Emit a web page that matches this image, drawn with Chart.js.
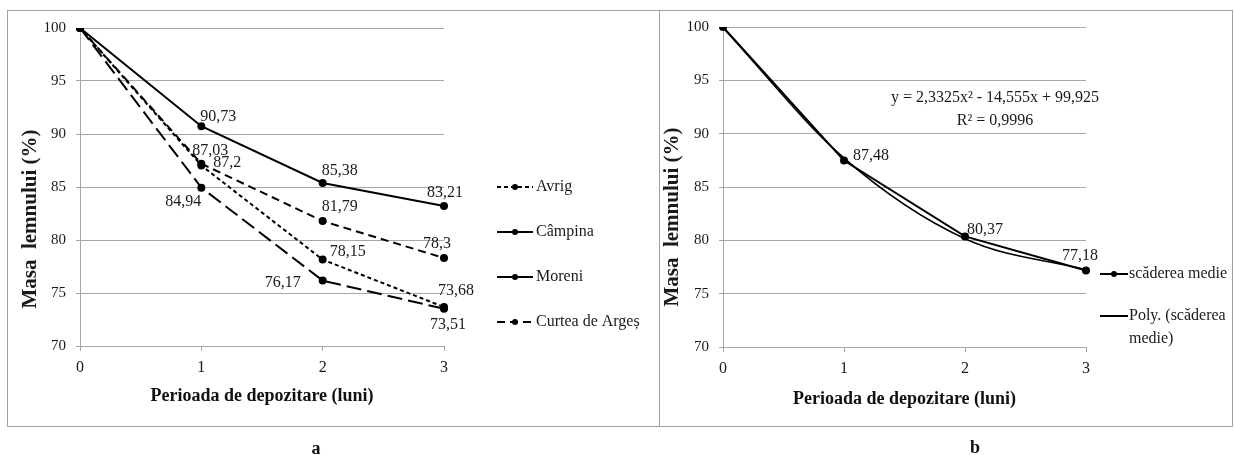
<!DOCTYPE html>
<html><head><meta charset="utf-8">
<script src="https://cdn.jsdelivr.net/npm/chart.js@4.4.1/dist/chart.umd.min.js"></script>
<style>
html,body{margin:0;padding:0;background:#fff;width:1234px;height:455px;overflow:hidden;}
#wrap{position:relative;width:1234px;height:455px;}
canvas{position:absolute;left:0;top:0;}
.panel{position:absolute;border:1px solid #a0a0a0;box-sizing:border-box;}
.cap{position:absolute;font:bold 18px 'Liberation Serif';color:#111;transform:translate(-50%,-50%);}
</style></head><body>
<div id="wrap">
<div class="panel" style="left:7px;top:10px;width:653px;height:417px"></div>
<div class="panel" style="left:659px;top:10px;width:574px;height:417px"></div>
<canvas id="cA" width="1234" height="455"></canvas>
<canvas id="cB" width="1234" height="455"></canvas>
<div class="cap" style="left:316px;top:448px">a</div>
<div class="cap" style="left:975px;top:447px">b</div>
</div>
<script>
// ---- data ----
const months = ['0', '1', '2', '3'];
const avrig = [100, 87.03, 78.15, 73.68];
const campina = [100, 90.73, 85.38, 83.21];
const moreni = [100, 84.94, 76.17, 73.51];
const curtea = [100, 87.2, 81.79, 78.3];
const seriesNamesA = ['Avrig', 'Câmpina', 'Moreni', 'Curtea de Argeș'];
const meanDecrease = [100, 87.48, 80.37, 77.18];
const polyTrend = [99.93, 87.70, 80.15, 77.25];
const seriesNamesB = ['scăderea medie', ['Poly. (scăderea', 'medie)']];
const equationLines = ['y = 2,3325x² - 14,555x + 99,925', 'R² = 0,9996'];
const yTitle = 'Masa  lemnului (%)';
const xTitle = 'Perioada de depozitare (luni)';

// ---- label placement (offsets from point, px) ----
const offsetsA = [
  [null, [9, -15], [25, -8], [12, -16]],
  [null, [17, -9], [17, -12], [1, -13]],
  [null, [-18, 14], [-40, 2], [4, 16]],
  [null, [26, -1], [17, -14], [-7, -14]]
];
const offsetsB = [[null, [27, -5], [20, -7], [-6, -15]], null];

Chart.defaults.animation = false;
const TXT = '#1a1a1a';
const GRID = '#a6a6a6';
const serif = 'Liberation Serif';
const fmt = v => String(v).replace('.', ',');

const annot = {
  id: 'annot',
  afterDatasetsDraw(chart, args, o) {
    const ctx = chart.ctx;
    ctx.save();
    // value labels
    ctx.font = '16px ' + serif; ctx.fillStyle = TXT;
    ctx.textAlign = 'center'; ctx.textBaseline = 'middle';
    chart.data.datasets.forEach((ds, di) => {
      const offs = o.offsets[di]; if (!offs) return;
      const meta = chart.getDatasetMeta(di);
      ds.data.forEach((v, i) => {
        const off = offs[i]; if (!off) return;
        const p = meta.data[i];
        ctx.fillText(fmt(v), p.x + off[0], p.y + off[1]);
      });
    });
    // y title
    ctx.save();
    ctx.translate(o.yTitlePos[0], o.yTitlePos[1]);
    ctx.rotate(-Math.PI / 2);
    ctx.font = 'bold 21px ' + serif;
    ctx.fillText(yTitle, 0, 0);
    ctx.restore();
    // legend
    ctx.font = '16px ' + serif; ctx.textAlign = 'left';
    chart.data.datasets.forEach((ds, di) => {
      const y = o.legend.ys[di];
      const [x0, x1, tx] = o.legend.xs;
      ctx.save();
      ctx.strokeStyle = '#000'; ctx.lineWidth = 2;
      ctx.setLineDash(ds.borderDash || []);
      ctx.beginPath(); ctx.moveTo(x0, y); ctx.lineTo(x1, y); ctx.stroke();
      ctx.restore();
      if (ds.pointRadius > 0) {
        ctx.beginPath(); ctx.arc((x0 + x1) / 2, y, 3, 0, Math.PI * 2); ctx.fillStyle = '#000'; ctx.fill();
      }
      ctx.fillStyle = TXT;
      const lab = Array.isArray(ds.label) ? ds.label : [ds.label];
      lab.forEach((t, k) => ctx.fillText(t, tx, y + k * 23));
    });
    // equation
    if (o.equation) {
      ctx.textAlign = 'center'; ctx.font = '16px ' + serif;
      o.equation.lines.forEach((t, k) => ctx.fillText(t, o.equation.x, o.equation.ys[k]));
    }
    ctx.restore();
  }
};

function scales(padL, yW, xH, titlePad) {
  return {
    x: {
      type: 'category', labels: months, offset: false,
      grid: { drawOnChartArea: false, drawTicks: true, tickLength: 5, color: GRID },
      border: { display: true, color: GRID, width: 1 },
      ticks: { font: { family: serif, size: 16 }, color: TXT, padding: 7, maxRotation: 0 },
      title: { display: true, text: xTitle, color: '#111', font: { family: serif, size: 18, weight: 'bold' }, padding: { top: 0, bottom: titlePad } },
      afterFit(s) { s.height = xH; }
    },
    y: {
      min: 70, max: 100,
      ticks: { stepSize: 5, font: { family: serif, size: 15 }, color: TXT, padding: 10 },
      grid: { color: GRID, lineWidth: 1, tickLength: 4, drawTicks: true },
      border: { display: true, color: GRID, width: 1 },
      afterFit(s) { s.width = yW; }
    }
  };
}

const lineBase = { borderColor: '#000', backgroundColor: '#000', pointBackgroundColor: '#000', pointBorderColor: '#000', pointRadius: 3, pointHoverRadius: 3, borderWidth: 2, tension: 0, fill: false };

new Chart(document.getElementById('cA'), {
  type: 'line',
  data: {
    labels: months,
    datasets: [
      { ...lineBase, label: seriesNamesA[0], data: avrig, borderDash: [4, 3] },
      { ...lineBase, label: seriesNamesA[1], data: campina, borderDash: [] },
      { ...lineBase, label: seriesNamesA[2], data: moreni, borderDash: [15, 6] },
      { ...lineBase, label: seriesNamesA[3], data: curtea, borderDash: [8, 5] }
    ]
  },
  options: {
    responsive: false, devicePixelRatio: 1,
    layout: { padding: { left: 8, right: 790, top: 28, bottom: 40 } },
    plugins: {
      legend: { display: false }, tooltip: { enabled: false },
      annot: { offsets: offsetsA, yTitlePos: [31, 219], legend: { ys: [187, 232, 277, 322], xs: [497, 533, 536] } }
    },
    scales: scales(8, 72, 69, 8)
  },
  plugins: [annot]
});

new Chart(document.getElementById('cB'), {
  type: 'line',
  data: {
    labels: months,
    datasets: [
      { ...lineBase, label: seriesNamesB[0], data: meanDecrease },
      { ...lineBase, label: seriesNamesB[1], data: polyTrend, pointRadius: 0, borderWidth: 1.6, cubicInterpolationMode: 'monotone' }
    ]
  },
  options: {
    responsive: false, devicePixelRatio: 1,
    layout: { padding: { left: 660, right: 148, top: 27, bottom: 40 } },
    plugins: {
      legend: { display: false }, tooltip: { enabled: false },
      annot: { offsets: offsetsB, yTitlePos: [673, 217], legend: { ys: [274, 316], xs: [1100, 1128, 1129] },
        equation: { lines: equationLines, x: 995, ys: [98, 121] } }
    },
    scales: scales(660, 63, 68, 5)
  },
  plugins: [annot]
});
</script>
</body></html>
